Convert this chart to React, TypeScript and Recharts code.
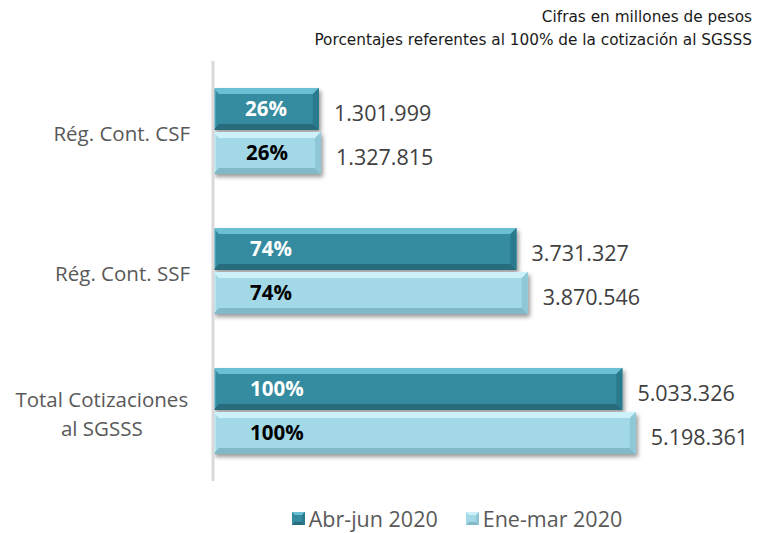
import React from 'react';
import { BarChart, Bar, XAxis, YAxis, Legend, LabelList } from 'recharts';

const categories = ['Rég. Cont. CSF', 'Rég. Cont. SSF', 'Total Cotizaciones\nal SGSSS'];
const abrJun2020 = [1301999, 3731327, 5033326];
const eneMar2020 = [1327815, 3870546, 5198361];
const pctAbrJun = [26, 74, 100];
const pctEneMar = [26, 74, 100];
const seriesNames = ['Abr-jun 2020', 'Ene-mar 2020'];

const data = categories.map((name, i) => ({
  name,
  abrJun: abrJun2020[i],
  eneMar: eneMar2020[i],
  pctAbrJun: pctAbrJun[i],
  pctEneMar: pctEneMar[i],
}));

const FONT = '"Open Sans", sans-serif';

const palette = {
  dark: { base: '#358ba0', top: '#6cbfd3', bottom: '#276c7d', right: '#2c7a8d', left: '#4aa2b7' },
  light: { base: '#a3d9e7', top: '#cdf1f9', bottom: '#82b9c8', right: '#8fc7d6', left: '#b8e6f1' },
};

const fmt = (v: number) => String(v).replace(/\B(?=(\d{3})+(?!\d))/g, '.');

const BevelBar = (tone: 'dark' | 'light') => (props: any) => {
  const { x, y, width: w, height: h } = props;
  if (!w || w <= 0) return null;
  const c = palette[tone];
  const b = 6;
  return (
    <g filter="url(#barShadow)">
      <rect x={x} y={y} width={w} height={h} fill={c.base} />
      <polygon points={`${x},${y} ${x + w},${y} ${x + w - b},${y + b} ${x + b},${y + b}`} fill={c.top} />
      <polygon points={`${x},${y + h} ${x + w},${y + h} ${x + w - b},${y + h - b} ${x + b},${y + h - b}`} fill={c.bottom} />
      <polygon points={`${x + w},${y} ${x + w},${y + h} ${x + w - b},${y + h - b} ${x + w - b},${y + b}`} fill={c.right} />
      <polygon points={`${x},${y} ${x},${y + h} ${x + 3},${y + h - 3} ${x + 3},${y + 3}`} fill={c.left} />
    </g>
  );
};

const PctLabel = (color: string) => (props: any) => {
  const { x, y, width, height, value } = props;
  const tx = width < 150 ? x + width / 2 : x + 37;
  return (
    <text x={tx} y={y + height / 2 - 1} textAnchor={width < 150 ? 'middle' : 'start'} dominantBaseline="central"
      fill={color} fontFamily={FONT} fontWeight={700} fontSize={20.5}>
      {value}%
    </text>
  );
};

const ValueLabel = (props: any) => {
  const { x, y, width, height, value } = props;
  return (
    <text x={x + width + 15} y={y + height / 2 + 3} dominantBaseline="central"
      fill="#404040" fontFamily={FONT} fontSize={21.5}>
      {fmt(value)}
    </text>
  );
};

const CategoryTick = (props: any) => {
  const { x, y, payload } = props;
  const lines = String(payload.value).split('\n');
  const right = x - 15;
  if (lines.length === 1) {
    return (
      <text x={right} y={y + 2} textAnchor="end" dominantBaseline="central" fill="#595959" fontFamily={FONT} fontSize={20.5}>
        {lines[0]}
      </text>
    );
  }
  const longest = Math.max(...lines.map((l) => l.length));
  const cx = right - longest * 9.8 / 2;
  const lh = 29;
  return (
    <text textAnchor="middle" fill="#595959" fontFamily={FONT} fontSize={20.5}>
      {lines.map((l, i) => (
        <tspan key={i} x={cx} y={y + (i - (lines.length - 1) / 2) * lh + 2} dominantBaseline="central">{l}</tspan>
      ))}
    </text>
  );
};

const LegendContent = () => {
  const tones: ('dark' | 'light')[] = ['dark', 'light'];
  return (
    <div style={{ display: 'flex', justifyContent: 'center', gap: 28, paddingLeft: 132, fontFamily: FONT, fontSize: 21.5, color: '#595959' }}>
      {seriesNames.map((n, i) => {
        const c = palette[tones[i]];
        return (
          <div key={n} style={{ display: 'flex', alignItems: 'center' }}>
            <svg width={13} height={13} style={{ marginRight: 4 }}>
              <rect x={0} y={0} width={13} height={13} fill={c.base} />
              <polygon points="0,0 13,0 10,3 3,3" fill={c.top} />
              <polygon points="0,13 13,13 10,10 3,10" fill={c.bottom} />
              <polygon points="13,0 13,13 10,10 10,3" fill={c.right} />
            </svg>
            <span>{n}</span>
          </div>
        );
      })}
    </div>
  );
};

export default function App() {
  return (
    <div style={{ position: 'absolute', left: 0, top: 0, width: 782, height: 533, background: '#fff' }}>
      <div style={{ position: 'absolute', right: 30, top: 6, textAlign: 'right', fontFamily: '"DejaVu Sans", sans-serif', fontSize: 15.3, lineHeight: '23px', color: '#1a1a1a', zIndex: 2 }}>
        <div>Cifras en millones de pesos</div>
        <div>Porcentajes referentes al 100% de la cotización al SGSSS</div>
      </div>
      <BarChart width={782} height={533} data={data} layout="vertical"
        margin={{ top: 61, right: 81, bottom: 52, left: 0 }} barGap={2} barSize={42}>
        <defs>
          <filter id="barShadow" x="-5%" y="-20%" width="115%" height="160%">
            <feDropShadow dx={2} dy={3} stdDeviation={2} floodColor="#000" floodOpacity={0.4} />
          </filter>
        </defs>
        <XAxis type="number" domain={[0, 6000000]} hide />
        <YAxis type="category" dataKey="name" width={213} axisLine={{ stroke: '#d9d9d9', strokeWidth: 3 }}
          tickLine={false} tick={<CategoryTick />} interval={0} />
        <Legend verticalAlign="middle" align="center" layout="horizontal" content={<LegendContent />}
          wrapperStyle={{ top: 504, left: 0, width: 782 }} />
        <Bar dataKey="abrJun" name={seriesNames[0]} shape={BevelBar('dark')} isAnimationActive={false}>
          <LabelList dataKey="pctAbrJun" content={PctLabel('#ffffff')} />
          <LabelList dataKey="abrJun" content={ValueLabel} />
        </Bar>
        <Bar dataKey="eneMar" name={seriesNames[1]} shape={BevelBar('light')} isAnimationActive={false}>
          <LabelList dataKey="pctEneMar" content={PctLabel('#000000')} />
          <LabelList dataKey="eneMar" content={ValueLabel} />
        </Bar>
      </BarChart>
    </div>
  );
}
